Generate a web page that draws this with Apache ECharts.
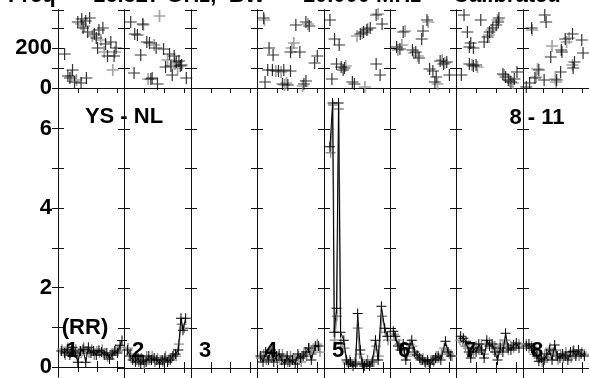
<!DOCTYPE html>
<html><head><meta charset="utf-8">
<script src="https://cdn.jsdelivr.net/npm/echarts@6/dist/echarts.min.js"></script>
<style>html,body{margin:0;padding:0;background:#fff}#c{width:589px;height:378px}</style>
</head><body><div id="c"></div>
<script>
// ---- data ----
const titleText = 'Freq  =  16.327 GHz,  BW  =  10.000 MHz  -  Calibrated';
const panelLabels = ['1','2','3','4','5','6','7','8'];
const topYLabels = [0, 200];
const botYLabels = [0, 2, 4, 6];
const botYTicks = [0, 1, 2, 3, 4, 5, 6];

// top row: scatter (x within panel 0..10, value)
const topBlack = [
  [[1.0,170],[1.5,60],[2.2,90],[1.8,50],[2.5,30],[3.0,330],[3.6,345],[4.2,335],[4.8,350],[3.8,300],[4.5,280],[5.5,270],[6.2,290],[5.8,250],[6.8,300],[7.2,220],[8.0,230],[7.5,160],[8.8,200],[8.5,160],[6.0,200],[4.3,50],[3.5,25]],
  [[1.0,330],[2.8,320],[1.6,270],[2.0,265],[3.4,230],[3.8,225],[4.8,200],[5.9,195],[6.8,170],[7.5,160],[8.2,135],[7.8,130],[8.6,115],[8.4,110],[7.0,110],[6.2,105],[2.5,165],[1.5,75],[4.2,50],[4.0,45],[7.2,65],[9.3,50],[5.0,20]],
  [],
  [[1.0,350],[5.8,315],[7.3,330],[7.8,310],[1.8,200],[2.4,165],[5.0,180],[6.4,180],[9.0,160],[8.6,125],[1.6,90],[2.3,90],[3.2,85],[4.0,90],[5.0,85],[1.2,30],[3.8,20],[4.6,15],[7.0,20],[7.3,35]],
  [[0.9,340],[1.6,245],[2.3,215],[1.9,120],[2.6,105],[3.1,100],[2.9,90],[1.2,45],[4.3,30],[4.6,20],[5.5,270],[6.0,280],[6.5,290],[7.0,300],[7.9,365],[8.8,320],[7.9,120],[8.5,65]],
  [[1.0,205],[1.5,195],[2.0,280],[3.4,190],[3.9,180],[4.4,150],[4.8,245],[5.0,285],[5.6,340],[6.0,95],[6.5,85],[7.0,55],[7.6,135],[8.1,120],[8.6,130],[9.0,65],[6.8,30]],
  [[1.2,365],[3.7,340],[4.2,230],[4.7,255],[5.0,280],[5.5,300],[6.0,315],[6.3,330],[6.4,350],[1.7,280],[2.2,225],[2.0,205],[2.6,200],[2.0,120],[2.6,110],[3.0,115],[7.0,70],[7.4,55],[7.8,40],[8.2,30],[8.7,45],[9.1,80],[0.8,65]],
  [[3.3,365],[3.5,330],[1.3,300],[7.5,270],[6.4,245],[8.9,240],[5.8,190],[5.9,180],[4.2,155],[9.1,175],[7.8,130],[7.6,100],[2.4,90],[5.7,80],[1.8,50],[3.2,40],[5.1,40],[0.5,5],[1.0,25]]
];
const topGray = [
  [[2.0,60],[3.5,320],[4.0,310],[5.2,260],[6.5,240],[7.0,180],[8.3,90],[8.6,180],[2.8,40]],
  [[5.3,360],[2.9,315],[4.5,215],[6.5,140],[7.6,120],[8.0,100],[3.6,45]],
  [],
  [[1.1,340],[7.6,320],[5.5,225],[5.2,200],[2.8,85],[3.6,80],[4.1,15],[4.4,25],[6.8,10]],
  [[5.0,260],[5.8,275],[6.6,295],[6.2,5],[3.3,110],[8.2,370]],
  [[1.2,190],[2.3,285],[1.8,215],[3.6,175],[4.2,160],[5.8,330],[7.9,140],[8.3,125],[7.2,20]],
  [[6.2,340],[5.3,290],[4.9,265],[2.4,115],[3.2,105],[7.2,65],[8.0,35],[8.5,25]],
  [[1.4,290],[7.0,250],[6.6,230],[4.4,210],[7.5,115],[2.2,95],[4.9,45],[5.0,30],[2.0,55]]
];

// bottom row: lines (x within panel 0..10, RR value)
const botBlack = [
  [[0.5,0.4],[1.0,0.35],[1.4,0.45],[1.8,0.3],[2.2,0.5],[2.6,0.35],[3.0,0.12],[3.4,0.4],[3.8,0.45],[4.2,0.12],[4.6,0.5],[5.0,0.35],[5.4,0.4],[5.8,0.3],[6.2,0.42],[6.6,0.38],[7.0,0.3],[7.4,0.35],[7.8,0.2],[8.2,0.3],[8.6,0.4],[9.0,0.35],[9.4,0.55],[9.7,0.67]],
  [[0.5,0.45],[0.9,0.3],[1.3,0.2],[1.7,0.15],[2.1,0.25],[2.5,0.1],[2.9,0.2],[3.3,0.15],[3.7,0.3],[4.1,0.2],[4.5,0.25],[4.9,0.2],[5.3,0.1],[5.7,0.2],[6.1,0.25],[6.5,0.15],[6.9,0.2],[7.3,0.3],[7.7,0.35],[8.1,0.45],[8.5,1.25],[8.8,0.95],[9.2,1.25]],
  [],
  [[0.5,0.3],[0.9,0.15],[1.3,0.4],[1.7,0.2],[2.1,0.45],[2.5,0.15],[2.9,0.3],[3.3,0.35],[3.7,0.2],[4.1,0.1],[4.5,0.3],[4.9,0.15],[5.3,0.2],[5.7,0.1],[6.1,0.35],[6.5,0.25],[6.9,0.3],[7.3,0.4],[7.7,0.5],[8.1,0.2],[8.7,0.55],[9.2,0.55]],
  [[0.9,5.55],[1.3,6.65],[1.55,0.9],[1.9,1.5],[2.2,6.65],[2.5,0.9],[3.0,0.7],[3.4,0.2],[3.7,0.1],[4.0,0.15],[4.4,0.05],[4.8,0.1],[5.1,1.37],[5.5,0.45],[5.8,0.1],[6.1,0.05],[6.5,0.1],[6.9,0.05],[7.3,0.15],[7.8,0.7],[8.2,0.2],[8.7,1.55],[9.2,1.0],[9.6,0.8]],
  [[0.5,0.92],[0.8,0.8],[1.2,0.55],[1.6,0.45],[2.0,0.6],[2.4,0.2],[2.9,0.5],[3.3,0.7],[3.7,0.4],[4.1,0.33],[4.5,0.25],[4.9,0.2],[5.3,0.15],[5.7,0.2],[6.1,0.1],[6.5,0.2],[6.9,0.25],[7.3,0.3],[7.7,0.2],[8.4,0.67],[8.8,0.4],[9.2,0.3]],
  [[0.7,0.8],[1.1,0.75],[1.5,0.67],[1.9,0.4],[2.2,0.25],[2.6,0.5],[3.0,0.4],[3.4,0.6],[3.8,0.45],[4.2,0.25],[4.6,0.7],[5.0,0.55],[5.4,0.6],[5.8,0.4],[6.2,0.2],[6.6,0.5],[7.0,0.4],[7.4,0.87],[7.8,0.5],[8.2,0.45],[8.6,0.58],[9.0,0.63],[9.4,0.5]],
  [[0.5,0.55],[0.9,0.6],[1.3,0.5],[1.7,0.45],[2.1,0.3],[2.4,0.17],[2.8,0.25],[3.2,0.2],[3.6,0.35],[4.0,0.45],[4.4,0.2],[4.8,0.58],[5.2,0.3],[5.6,0.25],[6.0,0.35],[6.4,0.3],[6.8,0.2],[7.2,0.4],[7.6,0.42],[8.0,0.3],[8.4,0.45],[8.8,0.35],[9.3,0.3]]
];
const botGray = [
  [[0.6,0.45],[1.1,0.3],[1.5,0.5],[1.9,0.35],[2.3,0.4],[2.7,0.45],[3.1,0.3],[3.5,0.35],[3.9,0.5],[4.3,0.4],[4.7,0.35],[5.1,0.45],[5.5,0.3],[5.9,0.4],[6.3,0.35],[6.7,0.45],[7.1,0.35],[7.5,0.25],[7.9,0.3],[8.3,0.35],[8.7,0.45],[9.1,0.4],[9.5,0.5]],
  [[0.6,0.5],[1.0,0.35],[1.4,0.25],[1.8,0.3],[2.2,0.15],[2.6,0.25],[3.0,0.1],[3.4,0.3],[3.8,0.2],[4.2,0.3],[4.6,0.15],[5.0,0.25],[5.4,0.2],[5.8,0.15],[6.2,0.3],[6.6,0.2],[7.0,0.25],[7.4,0.35],[7.8,0.3],[8.2,0.6],[8.6,1.1],[9.0,1.0]],
  [],
  [[0.6,0.25],[1.0,0.35],[1.4,0.2],[1.8,0.3],[2.2,0.25],[2.6,0.4],[3.0,0.2],[3.4,0.25],[3.8,0.35],[4.2,0.2],[4.6,0.15],[5.0,0.3],[5.4,0.25],[5.8,0.2],[6.2,0.3],[6.6,0.15],[7.0,0.35],[7.4,0.3],[7.8,0.5],[8.2,0.35],[8.6,0.45],[9.0,0.6],[9.4,0.4]],
  [[1.0,5.4],[1.35,6.6],[1.6,0.7],[1.95,1.3],[2.25,6.5],[2.55,0.6],[3.1,0.5],[3.5,0.15],[3.9,0.2],[4.3,0.1],[4.7,0.15],[5.1,1.0],[5.4,0.35],[5.8,0.15],[6.2,0.1],[6.6,0.2],[7.0,0.1],[7.4,0.2],[7.9,0.55],[8.3,0.3],[8.8,1.3],[9.3,0.9],[9.7,0.7]],
  [[0.6,0.85],[1.0,0.7],[1.4,0.6],[1.8,0.5],[2.2,0.35],[2.6,0.3],[3.0,0.6],[3.4,0.55],[3.8,0.35],[4.2,0.3],[4.6,0.2],[5.0,0.25],[5.4,0.1],[5.8,0.15],[6.2,0.2],[6.6,0.15],[7.0,0.3],[7.4,0.25],[7.8,0.35],[8.2,0.5],[8.6,0.45],[9.0,0.35],[9.4,0.3]],
  [[0.6,0.7],[1.0,0.65],[1.4,0.55],[1.8,0.5],[2.2,0.35],[2.6,0.4],[3.0,0.55],[3.4,0.45],[3.8,0.6],[4.2,0.35],[4.6,0.6],[5.0,0.65],[5.4,0.5],[5.8,0.55],[6.2,0.35],[6.6,0.6],[7.0,0.55],[7.4,0.7],[7.8,0.45],[8.2,0.55],[8.6,0.5],[9.0,0.55],[9.4,0.6]],
  [[0.5,0.6],[0.9,0.5],[1.3,0.55],[1.7,0.35],[2.1,0.4],[2.5,0.25],[2.9,0.15],[3.3,0.3],[3.7,0.25],[4.1,0.5],[4.5,0.35],[4.9,0.45],[5.3,0.2],[5.7,0.35],[6.1,0.25],[6.5,0.4],[6.9,0.3],[7.3,0.25],[7.7,0.45],[8.1,0.35],[8.5,0.3],[8.9,0.4],[9.3,0.35]]
];

// ---- layout / styles ----
const L0 = 58, PW = 531 / 8;
const TOP_T = 10, TOP_H = 78, BOT_T = 91, BOT_H = 289;
const FONT = '"Liberation Sans", Arial, sans-serif';
const AX = '#111';
const CROSS = 'path://M0,0.45H0.45V0H0.55V0.45H1V0.55H0.55V1H0.45V0.55H0Z';
const CROSS_G = 'path://M0,0.43H0.43V0H0.57V0.43H1V0.57H0.57V1H0.43V0.57H0Z';
const GRAY = '#8c8c8c';

const grids = [], xAxes = [], yAxes = [], series = [], graphics = [];
const nP = panelLabels.length;
for (let i = 0; i < nP; i++) {
  const left = Math.round(L0 + i * PW);
  const right = Math.round(L0 + (i + 1) * PW);
  [0, 1].forEach(row => {
    const g = grids.length;
    grids.push({ left, width: right - left, top: row === 0 ? TOP_T : BOT_T, height: row === 0 ? TOP_H : BOT_H });
    const xBase = { type: 'value', gridIndex: g, min: 0, max: 10, interval: 3,
      axisLine: { show: true, lineStyle: { color: AX, width: 1 } },
      axisLabel: { show: false }, splitLine: { show: false } };
    xAxes.push(Object.assign({}, xBase, { position: 'bottom',
      axisTick: { show: true, inside: row === 1, length: row === 1 ? 6 : 4, lineStyle: { color: AX } } }));
    xAxes.push(Object.assign({}, xBase, { position: 'top',
      axisTick: { show: true, inside: true, length: 5, lineStyle: { color: AX } } }));
    const yBase = row === 0
      ? { type: 'value', gridIndex: g, min: 0, max: 390, interval: 100 }
      : { type: 'value', gridIndex: g, min: -0.25, max: 6.95 };
    const tick = row === 0
      ? { show: true, inside: true, length: 6, lineStyle: { color: AX } }
      : { show: true, inside: true, length: 6, customValues: botYTicks, lineStyle: { color: AX } };
    const lbl = { show: i === 0, color: '#000', fontSize: 22, fontWeight: 'bold', fontFamily: FONT, margin: 6 };
    if (row === 0) lbl.formatter = v => (topYLabels.indexOf(v) >= 0 ? String(v) : '');
    else lbl.customValues = botYLabels;
    yAxes.push(Object.assign({}, yBase, { position: 'left', axisLine: { show: true, lineStyle: { color: AX } },
      axisTick: tick, axisLabel: lbl, splitLine: { show: false } }));
    yAxes.push(Object.assign({}, yBase, { position: 'right', axisLine: { show: true, lineStyle: { color: AX } },
      axisTick: tick, axisLabel: { show: false }, splitLine: { show: false } }));
    const xi = 2 * g, yi = 2 * g;
    if (row === 0) {
      series.push({ type: 'scatter', xAxisIndex: xi, yAxisIndex: yi, data: topGray[i], symbol: CROSS_G, symbolSize: 12,
        itemStyle: { color: GRAY }, silent: true, z: 2, clip: true });
      series.push({ type: 'scatter', xAxisIndex: xi, yAxisIndex: yi, data: topBlack[i], symbol: CROSS, symbolSize: 12,
        itemStyle: { color: '#000' }, silent: true, z: 3, clip: true });
    } else {
      series.push({ type: 'line', xAxisIndex: xi, yAxisIndex: yi, data: botGray[i], symbol: CROSS_G, symbolSize: 10,
        showSymbol: true, itemStyle: { color: GRAY }, lineStyle: { color: GRAY, width: 1.3 }, silent: true, z: 2, clip: true, animation: false });
      series.push({ type: 'line', xAxisIndex: xi, yAxisIndex: yi, data: botBlack[i], symbol: CROSS, symbolSize: 10,
        showSymbol: true, itemStyle: { color: '#000' }, lineStyle: { color: '#000', width: 1 }, silent: true, z: 3, clip: true, animation: false });
    }
  });
  graphics.push({ type: 'text', left: left + 8, top: 340, z: 10,
    style: { text: panelLabels[i], font: 'bold 22px ' + FONT, fill: '#000' } });
}
const txt = (t, x, y) => ({ type: 'text', x, y, z: 10,
  style: { text: t, font: 'bold 22px ' + FONT, fill: '#000', align: 'center', verticalAlign: 'middle' } });
graphics.push(txt('YS - NL', 124, 117));
graphics.push(txt('8 - 11', 537, 118));
graphics.push(txt('(RR)', 85, 328));
graphics.push({ type: 'text', x: 8, y: -15, z: 10,
  style: { text: titleText, font: 'bold 22px ' + FONT, fill: '#000' } });

const chart = echarts.init(document.getElementById('c'), null, { renderer: 'canvas' });
chart.setOption({
  animation: false,
  backgroundColor: '#fff',
  grid: grids, xAxis: xAxes, yAxis: yAxes, series, graphic: graphics
});
</script></body></html>
